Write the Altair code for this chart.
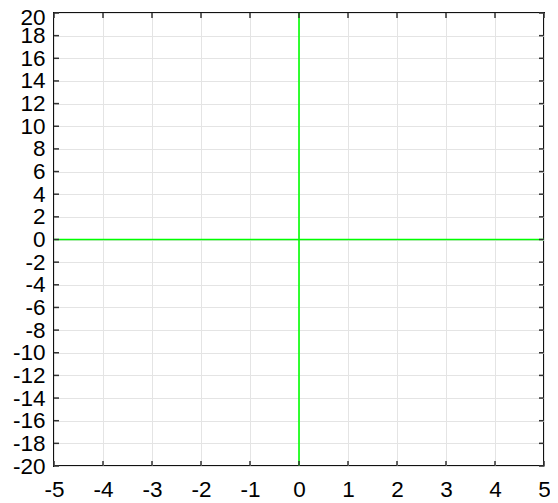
import altair as alt
import pandas as pd

x_ticks = [-5, -4, -3, -2, -1, 0, 1, 2, 3, 4, 5]
y_ticks = [-20, -18, -16, -14, -12, -10, -8, -6, -4, -2, 0, 2, 4, 6, 8, 10, 12, 14, 16, 18, 20]
h_line_y = [0]
v_line_x = [0]

W, H = 490, 453
FONT = "Liberation Sans"
FS = 22.5

xs = alt.Scale(domain=[-5, 5], nice=False, zero=False)
ys = alt.Scale(domain=[-20, 20], nice=False, zero=False)

xdf = pd.DataFrame({"x": x_ticks})
ydf = pd.DataFrame({"y": y_ticks})

x_axis = alt.Axis(values=x_ticks, title=None, grid=True, ticks=False,
                  domain=False, labelPadding=12, labelFontSize=FS,
                  labelFont=FONT, labelColor="black", labelOverlap=False,
                  labelExpr="'' + datum.value",
                  gridColor="#e4e4e4", labelFlush=False)
y_axis = alt.Axis(values=y_ticks, title=None, grid=True, ticks=False,
                  domain=False, labelPadding=9, labelFontSize=FS,
                  labelFont=FONT, labelColor="black", labelOverlap=False,
                  labelExpr="'' + datum.value",
                  labelOffset={"condition": {"test": "datum.value == 20", "value": 4}, "value": 0},
                  gridColor="#e4e4e4", labelFlush=False)
bx = alt.X("x:Q", scale=xs, axis=x_axis)
by = alt.Y("y:Q", scale=ys, axis=y_axis)

grid = alt.Chart(pd.DataFrame({"x": [-5, 5], "y": [-20, 20]})).mark_point(opacity=0).encode(x=bx, y=by)

tick_len = 5
bottom_ticks = alt.Chart(xdf).mark_rule(color="#333", strokeWidth=1.5).encode(
    x=bx, y=alt.value(H), y2=alt.value(H - tick_len))
top_ticks = alt.Chart(xdf).mark_rule(color="#333", strokeWidth=1.5).encode(
    x=bx, y=alt.value(0), y2=alt.value(tick_len))
left_ticks = alt.Chart(ydf).mark_rule(color="#333", strokeWidth=1.5).encode(
    y=by, x=alt.value(0), x2=alt.value(tick_len))
right_ticks = alt.Chart(ydf).mark_rule(color="#333", strokeWidth=1.5).encode(
    y=by, x=alt.value(W), x2=alt.value(W - tick_len))

hline = alt.Chart(pd.DataFrame({"y": h_line_y})).mark_rule(color="#00ff00", strokeWidth=1.6).encode(y=by)
vline = alt.Chart(pd.DataFrame({"x": v_line_x})).mark_rule(color="#00ff00", strokeWidth=1.6).encode(x=bx)

chart = alt.layer(grid, hline, vline, bottom_ticks, top_ticks, left_ticks, right_ticks).properties(
    width=W, height=H,
    background="white",
    autosize=alt.AutoSizeParams(type="none"),
    padding={"left": 46, "top": 5, "right": 6, "bottom": 40},
).configure_view(stroke="#111", strokeWidth=2).configure_axis(labelOverlap=False)

chart.save("out.html", embed_options={"renderer": "svg", "actions": False})
